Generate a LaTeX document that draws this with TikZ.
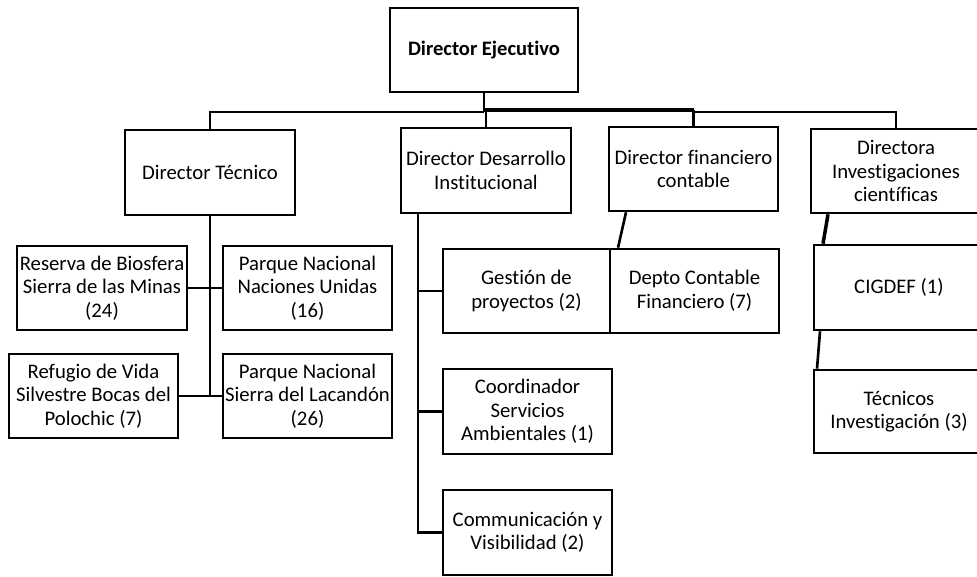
\documentclass[tikz,border=0pt]{standalone}
\usepackage{fontspec}
\setmainfont{Carlito}[Ligatures=NoCommon]
\usetikzlibrary{positioning}
\definecolor{ChartBlack}{RGB}{0, 0, 0}

\begin{document}
\begin{tikzpicture}[x=0.02cm, y=-0.02cm,
    unit/.style={draw=ChartBlack, line width=1.5pt, align=center, inner sep=0pt,
      minimum width=3.4cm, minimum height=1.7cm, font=\fontsize{11.8}{13.4}\selectfont},
    link/.style={draw=ChartBlack, line width=1.5pt}]
    \useasboundingbox (0,0) rectangle (977,577);
    \clip (0,0) rectangle (977,577);
    % top level
    \node[unit, minimum width=3.76cm, minimum height=1.68cm, font=\fontsize{11.7}{13}\bfseries] (ejec) at (484,50) {Director Ejecutivo};
    \node[unit] (tec) at (210,172.5) {Director Técnico};
    \node[unit] (des) at (486,170.5) {Director Desarrollo\\Institucional};
    \node[unit, minimum width=3.38cm, minimum height=1.68cm] (fin) at (693.5,169) {Director financiero\\contable};
    \node[unit, minimum height=1.68cm] (inv) at (896,171) {Directora\\Investigaciones\\científicas};
    % areas protegidas
    \node[unit, minimum height=1.68cm] (res) at (102,288) {Reserva de Biosfera\\Sierra de las Minas\\(24)};
    \node[unit, minimum width=3.38cm, minimum height=1.68cm] (pnu) at (307.5,288) {Parque Nacional\\Naciones Unidas\\(16)};
    \node[unit, minimum width=3.38cm, minimum height=1.68cm] (ref) at (93.5,396) {Refugio de Vida\\Silvestre Bocas del\\Polochic (7)};
    \node[unit, minimum width=3.38cm, minimum height=1.68cm] (psl) at (307.5,396) {Parque Nacional\\Sierra del Lacandón\\(26)};
    % desarrollo y finanzas
    \node[unit, minimum width=3.34cm, minimum height=1.68cm] (ges) at (526.5,291) {Gestión de\\proyectos (2)};
    \node[unit, minimum width=3.38cm, minimum height=1.68cm] (dep) at (694.5,291) {Depto Contable\\Financiero (7)};
    \node[unit, minimum width=3.38cm] (coo) at (527.5,411.5) {Coordinador\\Servicios\\Ambientales (1)};
    \node[unit, minimum width=3.38cm] (com) at (527.5,532.5) {Communicación y\\Visibilidad (2)};
    % investigaciones
    \node[unit] (cig) at (899,287.5) {CIGDEF (1)};
    \node[unit, minimum height=1.66cm] (tin) at (899,411.5) {Técnicos\\Investigación (3)};

    % bus
    \coordinate (hubL) at (484,112);
    \coordinate (hubR) at (484,110);
    \coordinate (desAx) at (418,213);
    \draw[link] (ejec.south) -- (hubL);
    \draw[link, line width=1.2pt] (tec.north) |- (hubL);
    \draw[link, line width=1.2pt] (des.north) -- (des.north |- hubL);
    \draw[link, line width=2.6pt] (hubR) -- (hubR -| fin.north);
    \draw[link] (hubR -| fin.north) -- (fin.north);
    \draw[link, line width=1.2pt] (fin.north |- hubL) -| (inv.north);
    % tecnico
    \draw[link] (tec.south) -- (tec.south |- psl.west);
    \draw[link] (res.east) -- (pnu.west);
    \draw[link] (ref.east) -- (psl.west);
    % desarrollo
    \draw[link] (desAx) |- (com.west);
    \draw[link] (desAx |- ges.west) -- (ges.west);
    \draw[link] (desAx |- coo.west) -- (coo.west);
    % financiero
    \draw[link] ([xshift=-1.35cm]fin.south) -- ([xshift=-1.53cm]dep.north);
    % investigaciones
    \draw[link, line width=2pt] ([xshift=-1.36cm]inv.south) -- ([xshift=-1.52cm]cig.north);
    \draw[link] ([xshift=-1.58cm]cig.south) -- ([xshift=-1.64cm]tin.north);
\end{tikzpicture}
\end{document}
